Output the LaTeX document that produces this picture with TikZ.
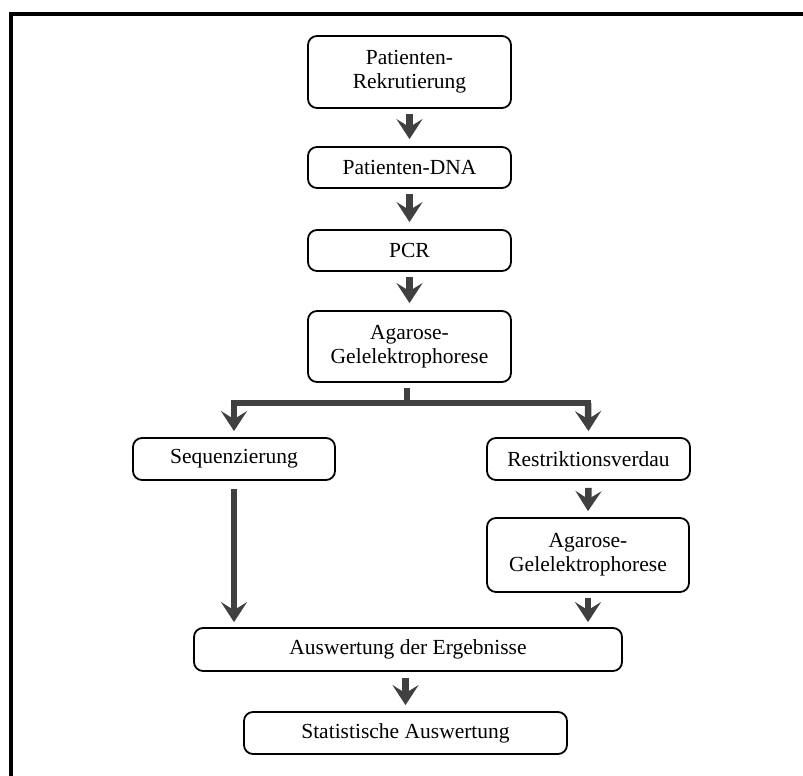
\documentclass[tikz,border=0pt]{standalone}
\usepackage{fontspec}
\setmainfont{Liberation Serif}
\usetikzlibrary{arrows.meta}
\definecolor{arrgray}{HTML}{404040}
\tikzset{
  box/.style={draw=black, line width=1.8pt, rounded corners=9pt, fill=white,
    align=center, inner sep=0pt, font=\fontsize{21.5}{24}\selectfont},
  arr/.style={draw=arrgray, line width=6.5pt,
    -{Stealth[length=20pt, width=26pt, inset=8pt]}},
  branch/.style={draw=arrgray, line width=6.5pt}
}
\begin{document}
\begin{tikzpicture}[x=1pt,y=-1pt]
\useasboundingbox (0,0) rectangle (803,776);
% frame
\draw[line width=4.5pt, line cap=rect] (11,14) -- (803,14);
\draw[line width=4.5pt] (11,14) -- (11,776);
% nodes
\node[box, minimum width=203pt, minimum height=72pt] (b1) at (409.5,72) {Patienten-\\Rekrutierung};
\node[box, minimum width=203pt, minimum height=41pt] (b2) at (409.5,167.5) {Patienten-DNA};
\node[box, minimum width=203pt, minimum height=41pt] (b3) at (409.5,250.5) {PCR};
\node[box, minimum width=203pt, minimum height=71pt] (b4) at (409.5,346.5) {Agarose-\\Gelelektrophorese};
\node[box, minimum width=202pt, minimum height=42pt] (seq) at (234,459) {Sequenzierung};
\node[box, minimum width=203pt, minimum height=42pt] (res) at (588.5,459) {Restriktionsverdau};
\node[box, minimum width=202pt, minimum height=74pt] (ag2) at (588,555) {Agarose-\\Gelelektrophorese};
\node[box, minimum width=428pt, minimum height=43pt] (ausw) at (408,649.5) {Auswertung der Ergebnisse};
\node[box, minimum width=323pt, minimum height=42pt] (stat) at (405.5,733) {Statistische Auswertung};
% coordinates for branch
\coordinate (jn) at (407,403);
\coordinate (jl) at (234,403);
\coordinate (jr) at (588,403);
% arrows
\draw[arr] ([yshift=-5pt]b1.south) -- ([yshift=7pt]b2.north);
\draw[arr] ([yshift=-5pt]b2.south) -- ([yshift=7pt]b3.north);
\draw[arr] ([yshift=-5pt]b3.south) -- ([yshift=7pt]b4.north);
\draw[branch] ([yshift=-5pt]b4.south -| jn) -- (jn);
\draw[branch, line cap=rect] (jl) -- (jr);
\draw[arr] (jl) -- ([yshift=6pt]seq.north);
\draw[arr] (jr) -- ([yshift=6pt]res.north);
\draw[arr] ([yshift=-7pt]res.south) -- ([yshift=6pt]ag2.north);
\draw[arr] ([yshift=-8pt]seq.south) -- ([yshift=5pt]ausw.north -| seq.south);
\draw[arr] ([yshift=-5pt]ag2.south) -- ([yshift=5pt]ausw.north -| ag2.south);
\draw[arr] ([yshift=-6pt]ausw.south -| stat.north) -- ([yshift=6pt]stat.north);
\end{tikzpicture}
\end{document}
